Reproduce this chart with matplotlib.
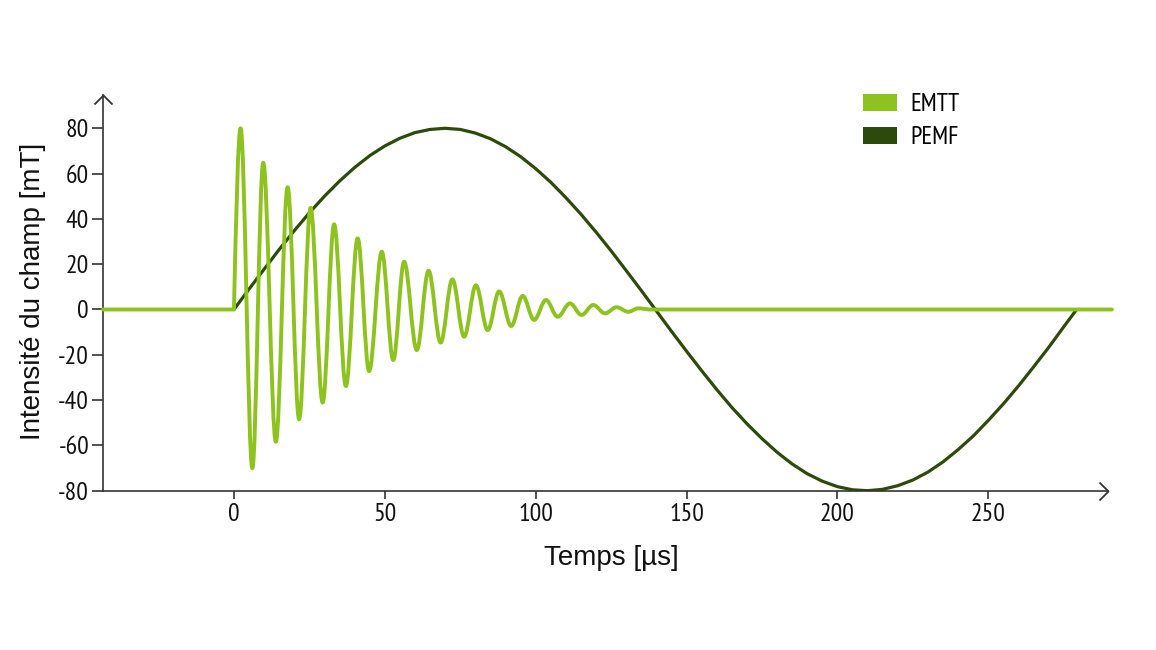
import matplotlib
matplotlib.use("Agg")
import matplotlib.pyplot as plt
from matplotlib.path import Path
from matplotlib.patches import PathPatch, Patch

# ---------------- data ----------------
# EMTT: damped oscillation, extrema (time in µs, field in mT)
emtt_t = [-43.4, 0.0, 2.2, 6.1, 9.7, 13.9, 17.8, 21.6, 25.4, 29.4, 33.2, 37.1, 41.0,
          44.8, 49.0, 52.8, 56.4, 60.6, 64.5, 68.5, 72.4, 76.3, 80.2, 84.1, 87.9,
          91.9, 95.7, 99.5, 103.4, 107.3, 111.4, 115.2, 119.1, 123.0, 126.8,
          130.7, 134.0, 137.5, 291.0]
emtt_v = [0.0, 0.0, 80.0, -70.1, 64.8, -58.4, 54.0, -48.5, 44.9, -41.1, 37.6, -33.8,
          31.4, -27.2, 25.5, -22.3, 21.1, -17.9, 17.1, -14.6, 13.3, -12.0, 10.7,
          -9.1, 8.0, -7.3, 6.0, -4.6, 4.2, -3.2, 2.7, -2.4, 2.0, -1.7, 1.0, -1.0,
          0.5, 0.0, 0.0]

# PEMF: one sine-like period
pemf_t = [0, 5, 10, 15, 20, 25, 30, 35, 40, 45, 50, 55, 60, 65, 70, 75, 80, 85,
          90, 95, 100, 105, 110, 115, 120, 125, 130, 135, 140, 145, 150, 155, 160,
          165, 170, 175, 180, 185, 190, 195, 200, 205, 210, 215, 220, 225, 230,
          235, 240, 245, 250, 255, 260, 265, 270, 275, 279.3]
pemf_v = [0.0, 9.0, 17.8, 26.5, 34.8, 42.7, 50.0, 56.7, 62.7, 67.9, 72.2, 75.6,
          78.1, 79.5, 80.0, 79.5, 77.9, 75.4, 71.9, 67.5, 62.2, 56.2, 49.4, 42.1,
          34.2, 25.9, 17.2, 8.4, -0.6, -9.6, -18.4, -27.0, -35.3, -43.2, -50.4,
          -57.0, -63.0, -68.2, -72.5, -75.8, -78.2, -79.6, -80.0, -79.4, -77.8,
          -75.3, -71.8, -67.3, -61.9, -55.9, -49.0, -41.7, -33.8, -25.4, -16.8,
          -7.7, 0.0]

x_ticks = [0, 50, 100, 150, 200, 250]
y_ticks = [-80, -60, -40, -20, 0, 20, 40, 60, 80]
series_names = ["EMTT", "PEMF"]

# ---------------- style ----------------
C_EMTT = "#8dc21f"
C_PEMF = "#2d4a0c"
C_AX = "#333333"
NARROW = ["PT Sans Narrow", "Asap Condensed", "DejaVu Sans"]
SANS = ["Liberation Sans", "DejaVu Sans"]

W, H = 1156, 650
fig = plt.figure(figsize=(W / 100, H / 100), dpi=100)
L, R, B, T = 103, 1108, 490.7, 95
ax = fig.add_axes([L / W, 1 - B / H, (R - L) / W, (B - T) / H])
ax.set_xlim(-43.4, 289.7)
ax.set_ylim(-80, 94.7)

for s in ["top", "right"]:
    ax.spines[s].set_visible(False)
for s in ["left", "bottom"]:
    ax.spines[s].set_color(C_AX)
    ax.spines[s].set_linewidth(1.2)

# axis arrow heads (open chevrons)
chev_r = Path([(-1, 1), (0, 0), (-1, -1)], [Path.MOVETO, Path.LINETO, Path.LINETO])
chev_u = Path([(-1, -1), (0, 0), (1, -1)], [Path.MOVETO, Path.LINETO, Path.LINETO])
ax.plot([1], [0], transform=ax.transAxes, marker=chev_r, ms=13, mfc="none",
        mec=C_AX, mew=1.3, clip_on=False, ls="none")
ax.plot([0], [1], transform=ax.transAxes, marker=chev_u, ms=13, mfc="none",
        mec=C_AX, mew=1.3, clip_on=False, ls="none")

ax.set_xticks(x_ticks)
ax.set_yticks(y_ticks)
ax.set_xticklabels([str(v) for v in x_ticks])
ax.set_yticklabels([str(v) for v in y_ticks])
ax.tick_params(axis="x", length=6, width=1.2, color=C_AX, pad=3, labelsize=18.5,
               labelcolor="#111111")
ax.tick_params(axis="y", length=8, width=1.2, color=C_AX, pad=2, labelsize=18.5,
               labelcolor="#111111")
for lab in ax.get_xticklabels() + ax.get_yticklabels():
    lab.set_family(NARROW)

# ---------------- PEMF ----------------
ax.plot(pemf_t, pemf_v, color=C_PEMF, lw=2.3, solid_capstyle="round", zorder=2)

# ---------------- EMTT (smooth segments through extrema) ----------------
verts = [(emtt_t[0], emtt_v[0]), (emtt_t[1], emtt_v[1])]
codes = [Path.MOVETO, Path.LINETO]
n = len(emtt_t)
for i in range(1, n - 2):
    t0, y0 = emtt_t[i], emtt_v[i]
    t1, y1 = emtt_t[i + 1], emtt_v[i + 1]
    dt, dy = t1 - t0, y1 - y0
    if i == 1:  # rising from zero to first peak (quarter wave)
        p1 = (t0 + 0.326 * dt, y0 + 0.512 * dy)
        p2 = (t0 + 0.638 * dt, y1)
    elif i == n - 3:  # last extremum back to zero
        p1 = (t0 + 0.362 * dt, y0)
        p2 = (t0 + 0.674 * dt, y0 + 0.488 * dy)
    else:  # extremum to extremum (half wave)
        p1 = (t0 + 0.36 * dt, y0)
        p2 = (t1 - 0.36 * dt, y1)
    verts += [p1, p2, (t1, y1)]
    codes += [Path.CURVE4, Path.CURVE4, Path.CURVE4]
verts.append((emtt_t[-1], emtt_v[-1]))
codes.append(Path.LINETO)
ax.add_patch(PathPatch(Path(verts, codes), facecolor="none", edgecolor=C_EMTT,
                       lw=2.8, joinstyle="round", capstyle="round", zorder=3,
                       clip_on=False))

# ---------------- labels ----------------
fig.text(611 / W, 1 - 558 / H, "Temps [µs]", ha="center", va="center",
         fontsize=20, family=SANS, color="#111111")
fig.text(33 / W, 1 - 291 / H, "Intensité du champ [mT]", ha="center",
         va="center", rotation=90, fontsize=20, family=SANS, color="#111111")

# ---------------- legend ----------------
handles = [Patch(facecolor=C_EMTT, edgecolor="none"),
           Patch(facecolor=C_PEMF, edgecolor="none")]
leg = fig.legend(handles, series_names, loc="upper left",
                 bbox_to_anchor=(858 / W, 1 - 88 / H), frameon=False,
                 prop={"family": NARROW, "size": 18}, handlelength=1.36,
                 handleheight=0.68, handletextpad=0.55, labelspacing=0.42,
                 borderpad=0.2, borderaxespad=0)

fig.savefig("out.png", dpi=100, facecolor="white")
